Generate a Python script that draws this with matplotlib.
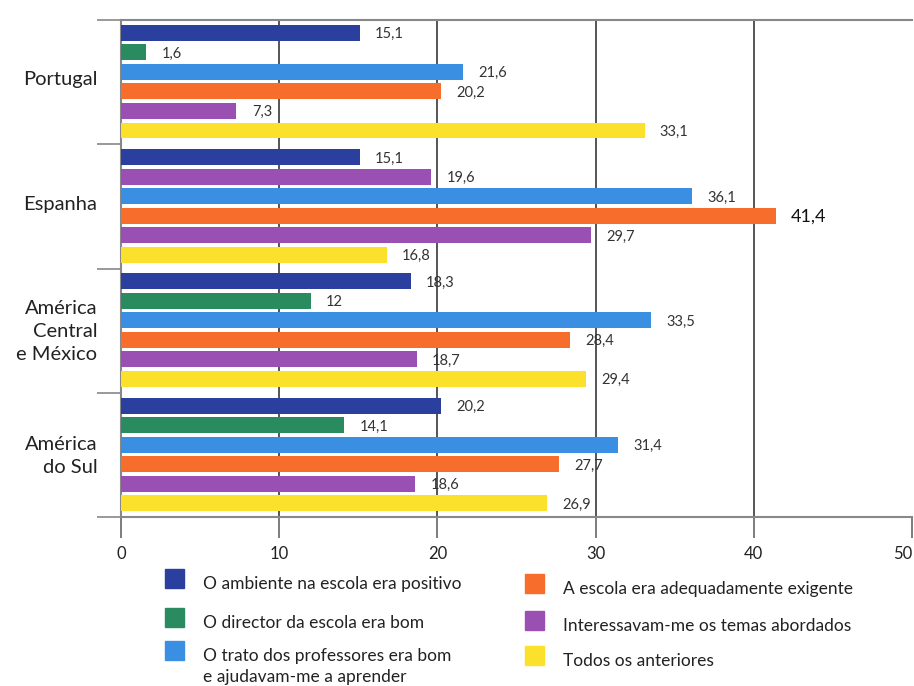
import matplotlib
matplotlib.use("Agg")
import matplotlib.pyplot as plt
from matplotlib.patches import Rectangle
import numpy as np

plt.rcParams["font.family"] = ["Lato", "DejaVu Sans"]

# Regions (top to bottom)
regions = ["Portugal", "Espanha", "América\nCentral\ne México", "América\ndo Sul"]

# Reasons for liking school (%), one list per reason, values per region
series_labels = [
    "O ambiente na escola era positivo",
    "O director da escola era bom",
    "O trato dos professores era bom\ne ajudavam-me a aprender",
    "A escola era adequadamente exigente",
    "Interessavam-me os temas abordados",
    "Todos os anteriores",
]
ambiente = [15.1, 15.1, 18.3, 20.2]
director = [1.6, 19.6, 12.0, 14.1]
professores = [21.6, 36.1, 33.5, 31.4]
exigente = [20.2, 41.4, 28.4, 27.7]
temas = [7.3, 29.7, 18.7, 18.6]
todos = [33.1, 16.8, 29.4, 26.9]
series_values = [ambiente, director, professores, exigente, temas, todos]

x_ticks = [0, 10, 20, 30, 40, 50]

series_colors = ["#2b3f9e", "#2a8a60", "#3a8fe2", "#f66d2c", "#9a50b2", "#fbe02c"]
# bar drawn in a different colour than its series (Espanha, second bar)
color_override = {(1, 1): "#9a50b2"}

fig = plt.figure(figsize=(9.14, 6.86), dpi=100)
ax = fig.add_axes([121 / 914, (686 - 517) / 686, 791 / 914, 497 / 686])

n_series = len(series_values)
pitch = 0.157
height = 0.128
first = 0.104
top_value = max(max(v) for v in series_values)

for g in range(len(regions)):
    for s in range(n_series):
        val = series_values[s][g]
        yc = g + first + s * pitch
        col = color_override.get((g, s), series_colors[s])
        ax.barh(yc, val, height=height, color=col, zorder=3)
        txt = f"{val:.1f}".replace(".", ",")
        if txt.endswith(",0"):
            txt = txt[:-2]
        big = val == top_value
        ax.annotate(txt, (val, yc), xytext=(11, -1), textcoords="offset points",
                    va="center", ha="left",
                    fontsize=13 if big else 10.5,
                    color="#111111" if big else "#333333", zorder=4)

ax.set_xlim(0, 50)
ax.set_ylim(len(regions), 0)

# group separators as major ticks, region names as minor ticks
ax.set_yticks(np.arange(len(regions) + 1))
ax.set_yticklabels([])
ax.set_yticks(np.arange(len(regions)) + 0.47, minor=True)
ax.set_yticklabels(regions, minor=True, fontsize=14.5, color="#222222",
                   linespacing=1.45)
ax.tick_params(axis="y", which="major", length=17, width=1.2, color="#888888", direction="out")
ax.tick_params(axis="y", which="minor", length=0, pad=17)

ax.set_xticks(x_ticks)
ax.set_xticklabels([str(t) for t in x_ticks], fontsize=12, color="#222222")
ax.tick_params(axis="x", length=15, width=1.2, color="#666666", pad=6)
ax.get_xticklabels()[-1].set_horizontalalignment("right")

ax.grid(axis="x", color="#555555", linewidth=1.4, zorder=0)
ax.xaxis.get_gridlines()[-1].set_visible(False)
ax.set_axisbelow(True)

for side in ["top", "bottom", "left"]:
    ax.spines[side].set_color("#888888")
    ax.spines[side].set_linewidth(1.5)
ax.spines["right"].set_visible(False)

# legend in two columns below the axis
def legend_item(px, py, color, label):
    fig.add_artist(Rectangle((px / 914, 1 - (py + 12) / 686), 19 / 914, 19 / 686,
                             transform=fig.transFigure, color=color))
    fig.text((px + 38) / 914, 1 - py / 686, label, fontsize=12.5, color="#222222",
             va="top", ha="left", linespacing=1.35)

col1 = [(165, 576), (165, 615), (165, 648)]
col2 = [(525, 581), (525, 618), (525, 653)]
for s, (px, py) in enumerate(col1 + col2):
    legend_item(px, py, series_colors[s], series_labels[s])

fig.savefig("out.png", dpi=100)
